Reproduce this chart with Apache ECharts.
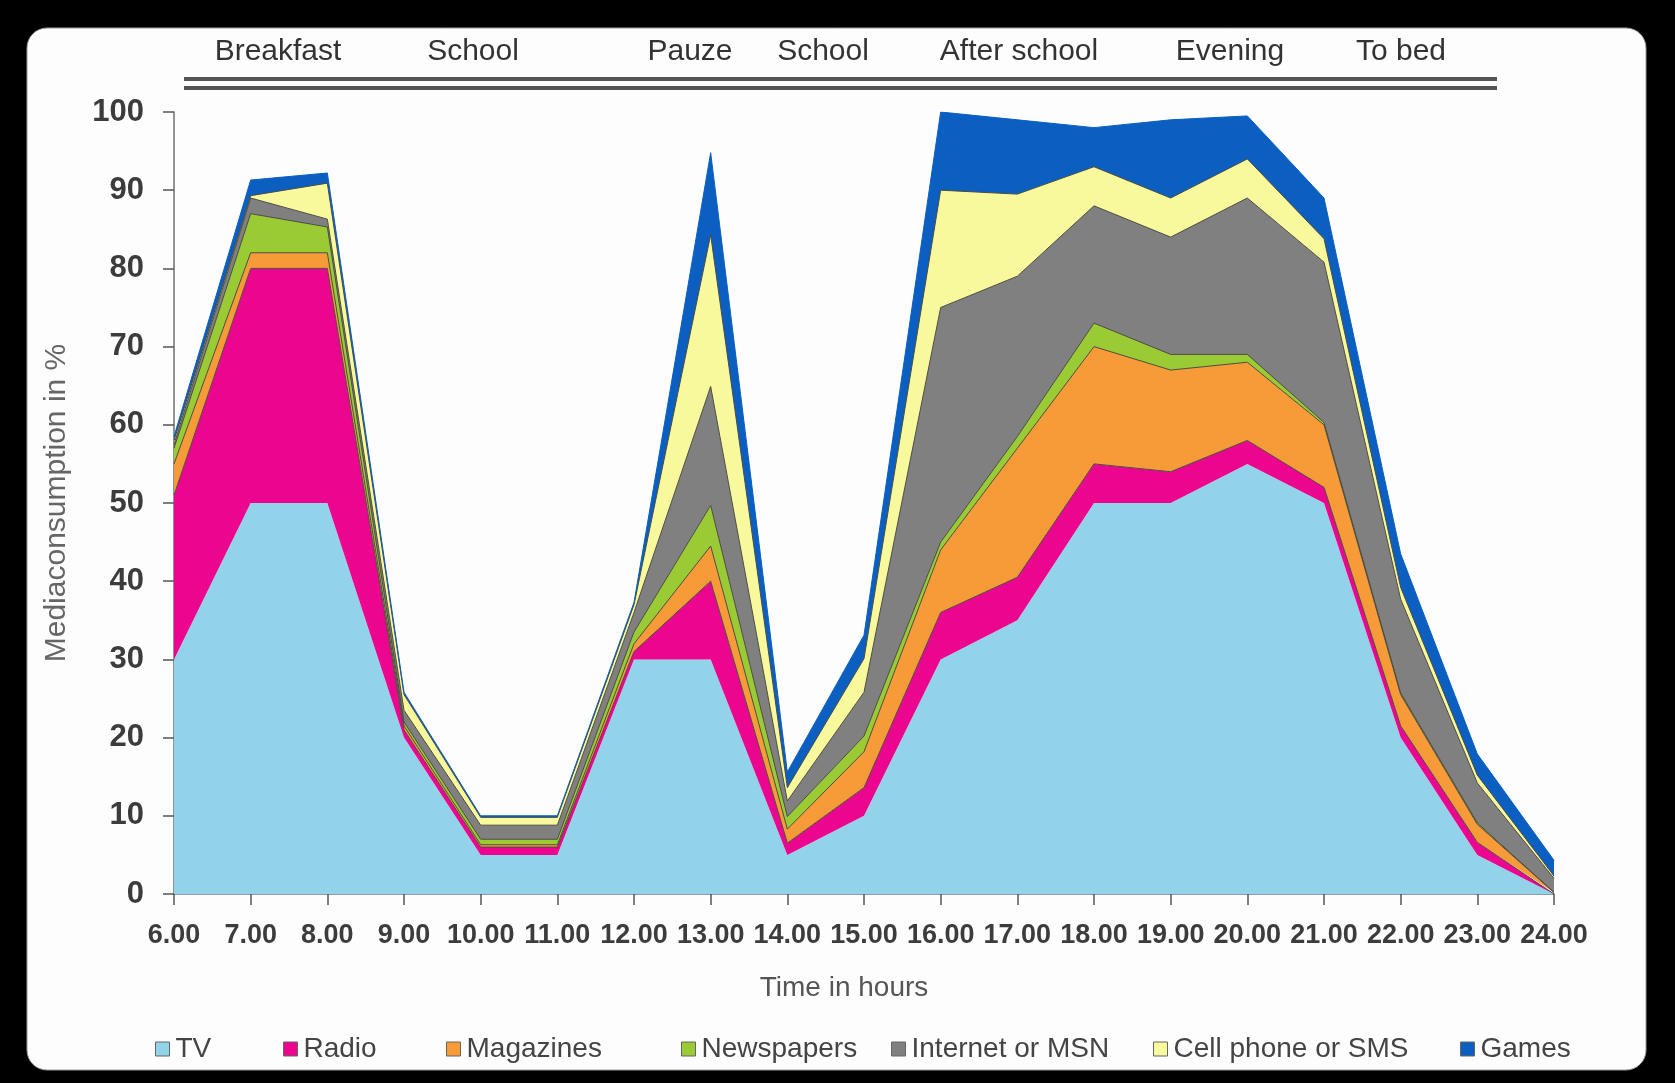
<!DOCTYPE html>
<html>
<head>
<meta charset="utf-8">
<title>Mediaconsumption</title>
<script src="https://cdn.jsdelivr.net/npm/echarts@6/dist/echarts.min.js"></script>
<style>
  html, body { margin: 0; padding: 0; background: #000; }
  #main { width: 1675px; height: 1083px; }
</style>
</head>
<body>
<div id="main"></div>
<script>
// hours on the x axis
var hours = ['6.00', '7.00', '8.00', '9.00', '10.00', '11.00', '12.00', '13.00', '14.00', '15.00',
             '16.00', '17.00', '18.00', '19.00', '20.00', '21.00', '22.00', '23.00', '24.00'];

// share per medium, stacked (percent)
var tv         = [30, 50, 50, 20, 5, 5, 30, 30, 5, 10, 30, 35, 50, 50, 55, 50, 20, 5, 0];
var radio      = [21, 30, 30, 1, 1, 1, 1, 10, 1.5, 3.6, 6, 5.5, 5, 4, 3, 2, 1.5, 1.6, 0];
var magazines  = [4, 2, 2, 0.5, 0.3, 0.3, 1, 4.5, 1.8, 4.6, 8, 16.5, 15, 13, 10, 8, 4, 2.3, 0.2];
var newspapers = [2, 5, 3.3, 0.5, 0.7, 0.7, 1.5, 5.2, 1.6, 2, 1, 1.5, 3, 2, 1, 0.3, 0.2, 0.2, 0];
var internet   = [0.5, 2, 1, 1.5, 1.8, 1.8, 2.5, 15.2, 2, 5.6, 30, 20.5, 15, 15, 20, 20.5, 12, 5.1, 1.8];
var cellphone  = [0.5, 0.3, 4.6, 2, 1, 1, 1, 19.4, 1.7, 4.3, 15, 10.5, 5, 5, 5, 3, 1.5, 1, 0.3];
var games      = [0.5, 2, 1.3, 0.3, 0.2, 0.2, 0.3, 10.5, 2, 3, 10, 9.5, 5, 10, 5.5, 5.2, 4.3, 2.7, 2];

var seriesNames = ['TV', 'Radio', 'Magazines', 'Newspapers', 'Internet or MSN', 'Cell phone or SMS', 'Games'];
var periods = ['Breakfast', 'School', 'Pauze', 'School', 'After school', 'Evening', 'To bed'];

var colors = ['#92d3ea', '#ec058e', '#f79a38', '#9acb34', '#808080', '#f8f89c', '#0b5fc1'];
var periodX = [278, 473, 690, 823, 1019, 1230, 1401];
var legendX = [150, 278, 441, 676, 886, 1148, 1455];
var font = "'Liberation Sans', Arial, sans-serif";

var allData = [tv, radio, magazines, newspapers, internet, cellphone, games];

var chart = echarts.init(document.getElementById('main'));

var series = allData.map(function (d, i) {
    var edge = '#4b4b40';
    if (i === 0) edge = colors[0];
    if (i === 6) edge = colors[6];
    return {
        name: seriesNames[i],
        type: 'line',
        stack: 'media',
        data: d,
        symbol: 'none',
        color: colors[i],
        lineStyle: { color: edge, width: i === 0 ? 0 : 1 },
        areaStyle: { color: colors[i], opacity: 1 },
        emphasis: { disabled: true }
    };
});

var legends = seriesNames.map(function (n, i) {
    return {
        data: [n],
        left: legendX[i],
        top: 1030,
        icon: 'rect',
        itemWidth: 14,
        itemHeight: 14,
        itemGap: 0,
        selectedMode: false,
        itemStyle: { borderColor: '#666', borderWidth: 1 },
        textStyle: { fontFamily: font, fontSize: 28, color: '#444', padding: [0, 0, 0, 1] }
    };
});

var graphics = [
    { type: 'rect', z: -10, shape: { x: 27, y: 28, width: 1619, height: 1042, r: 20 },
      style: { fill: '#fdfdfd', stroke: '#9a9a9a', lineWidth: 1 } },
    { type: 'rect', shape: { x: 184, y: 77, width: 1313, height: 4 }, style: { fill: '#555' } },
    { type: 'rect', shape: { x: 184, y: 86, width: 1313, height: 4 }, style: { fill: '#555' } }
];
periods.forEach(function (p, i) {
    graphics.push({
        type: 'text', x: periodX[i], y: 52,
        style: { text: p, fontFamily: font, fontSize: 30, fill: '#333', align: 'center', verticalAlign: 'middle' }
    });
});

chart.setOption({
    backgroundColor: '#000',
    animation: false,
    grid: { left: 174, right: 121, top: 112, bottom: 189, containLabel: false },
    legend: legends,
    graphic: graphics,
    xAxis: {
        type: 'category',
        data: hours,
        boundaryGap: false,
        name: 'Time in hours',
        nameLocation: 'middle',
        nameGap: 80,
        nameTextStyle: { fontFamily: font, fontSize: 28, color: '#555', padding: [0, 40, 0, 0] },
        axisLine: { lineStyle: { color: '#6f7f88', width: 1.5 } },
        axisTick: { length: 11, lineStyle: { color: '#555', width: 1.5 } },
        axisLabel: { interval: 0, margin: 28, fontFamily: font, fontSize: 27, fontWeight: 'bold', color: '#3c3c3c' },
        splitLine: { show: false }
    },
    yAxis: {
        type: 'value',
        min: 0,
        max: 100,
        interval: 10,
        name: 'Mediaconsumption in %',
        nameLocation: 'middle',
        nameGap: 102,
        nameTextStyle: { fontFamily: font, fontSize: 30, color: '#666' },
        axisLine: { show: true, lineStyle: { color: '#6f6f6f', width: 1.5 } },
        axisTick: { show: true, length: 11, lineStyle: { color: '#555', width: 1.5 } },
        axisLabel: { margin: 30, fontFamily: font, fontSize: 31, fontWeight: 'bold', color: '#3c3c3c' },
        splitLine: { show: false }
    },
    series: series
});
</script>
</body>
</html>
